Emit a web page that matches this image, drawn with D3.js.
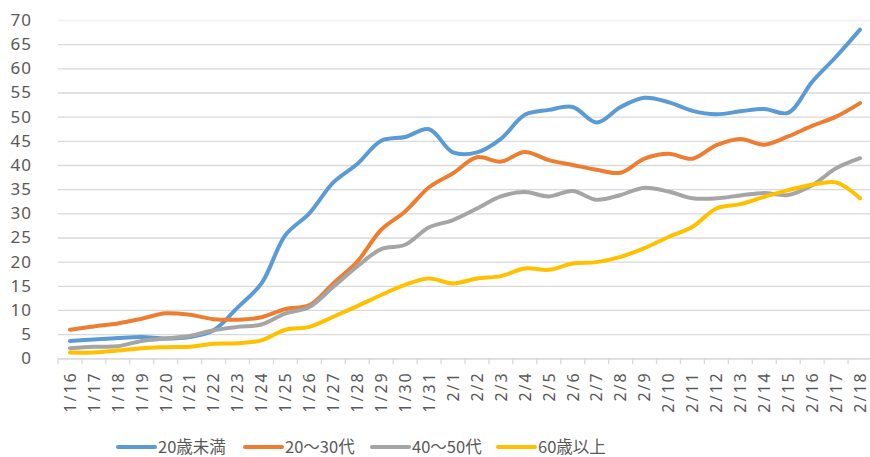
<!DOCTYPE html>
<html>
<head>
<meta charset="utf-8">
<script src="https://cdn.jsdelivr.net/npm/d3@7/dist/d3.min.js"></script>
<style>
  body { margin: 0; background: #fff; }
  svg { display: block; }
  text { font-family: "Noto Sans", "Noto Sans CJK JP", sans-serif; fill: #595959; }
</style>
</head>
<body>
<script>
//Width and height
var width = 870;
var height = 457;

//Data
var dates = ["1/16","1/17","1/18","1/19","1/20","1/21","1/22","1/23","1/24","1/25","1/26","1/27",
             "1/28","1/29","1/30","1/31","2/1","2/2","2/3","2/4","2/5","2/6","2/7","2/8","2/9",
             "2/10","2/11","2/12","2/13","2/14","2/15","2/16","2/17","2/18"];

var under20 = [3.6,3.9,4.2,4.4,4.1,4.4,5.8,10.5,15.5,25.5,30.0,36.4,40.2,45.0,45.8,47.4,42.6,42.6,
               45.4,50.4,51.4,52.0,48.8,52.0,53.9,53.0,51.2,50.5,51.1,51.6,50.8,57.2,62.4,68.0];
var age20to30 = [5.9,6.6,7.2,8.2,9.3,9.0,8.1,8.0,8.5,10.2,11.0,15.5,20.0,26.6,30.4,35.4,38.3,41.6,
                 40.7,42.7,41.0,40.0,39.0,38.4,41.3,42.3,41.3,44.1,45.4,44.2,45.9,48.1,50.0,52.8];
var age40to50 = [2.1,2.4,2.5,3.6,4.1,4.6,5.8,6.5,7.0,9.3,10.6,14.8,19.0,22.6,23.5,27.1,28.6,31.0,
                 33.5,34.4,33.5,34.6,32.8,33.8,35.3,34.5,33.1,33.1,33.7,34.2,33.8,35.8,39.3,41.4];
var over60 = [1.2,1.2,1.6,2.1,2.3,2.4,3.0,3.1,3.7,5.9,6.5,8.6,10.8,13.1,15.2,16.5,15.5,16.5,17.0,
              18.6,18.3,19.6,19.9,21.0,22.8,25.1,27.2,31.0,31.9,33.4,34.8,35.9,36.4,33.1];

var seriesNames = ["20歳未満","20～30代","40～50代","60歳以上"];
var seriesColors = ["#5B9BD5","#ED7D31","#A5A5A5","#FFC000"];
var series = [under20, age20to30, age40to50, over60];

var yTicks = [0,5,10,15,20,25,30,35,40,45,50,55,60,65,70];

//Scales
var x = d3.scaleBand()
    .domain(dates)
    .range([58, 872])
    .padding(0);

var y = d3.scaleLinear()
    .domain([0, 70])
    .range([358.3, 20]);

//Create SVG element
var svg = d3.select("body")
            .append("svg")
            .attr("width", width)
            .attr("height", height);

//Gridlines + y labels
var yAxis = svg.append("g")
    .attr("transform", "translate(58,0)")
    .call(d3.axisLeft(y)
        .tickValues(yTicks)
        .tickSize(-(872 - 58))
        .tickPadding(26)
        .tickFormat(d3.format("d")));

yAxis.select(".domain").remove();
yAxis.selectAll(".tick line")
    .attr("stroke", function(d) { return d === 70 ? "#f0f0f0" : "#d9d9d9"; })
    .attr("stroke-width", 1.3);
yAxis.selectAll(".tick text")
    .style("font-size", "17px")
    .style("letter-spacing", "1px")
    .attr("fill", "#595959");

//X axis
var xAxis = svg.append("g")
    .attr("transform", "translate(0," + y(0) + ")")
    .call(d3.axisBottom(x).tickSize(0).tickPadding(0));

xAxis.select(".domain")
    .attr("stroke", "#d9d9d9")
    .attr("stroke-width", 1.3);

xAxis.selectAll(".tick text")
    .style("font-size", "16px")
    .style("letter-spacing", "2px")
    .attr("fill", "#595959")
    .attr("text-anchor", "end")
    .attr("dy", "0.36em")
    .attr("transform", "translate(0,13) rotate(-90)");

//category tick marks at band boundaries
svg.append("g")
    .selectAll("line")
    .data(dates)
    .enter().append("line")
    .attr("x1", function(d) { return x(d); })
    .attr("x2", function(d) { return x(d); })
    .attr("y1", y(0))
    .attr("y2", y(0) + 6)
    .attr("stroke", "#d9d9d9")
    .attr("stroke-width", 1.3);

//Lines
var line = d3.line()
    .x(function(d, i) { return x(dates[i]) + x.bandwidth() / 2; })
    .y(function(d) { return y(d); })
    .curve(d3.curveCatmullRom.alpha(0.5));

svg.append("g")
    .selectAll("path")
    .data(series)
    .enter().append("path")
    .attr("d", line)
    .attr("fill", "none")
    .attr("stroke", function(d, i) { return seriesColors[i]; })
    .attr("stroke-width", 4)
    .attr("stroke-linecap", "round")
    .attr("stroke-linejoin", "round");

//Legend
var legendX = [118, 245, 372, 498];
var legend = svg.append("g")
    .attr("class", "legend")
    .attr("transform", "translate(0,447)");

var item = legend.selectAll("g")
    .data(seriesNames)
    .enter().append("g")
    .attr("transform", function(d, i) { return "translate(" + legendX[i] + ",0)"; });

item.append("line")
    .attr("x1", 0)
    .attr("x2", 37)
    .attr("stroke", function(d, i) { return seriesColors[i]; })
    .attr("stroke-width", 4)
    .attr("stroke-linecap", "round");

item.append("text")
    .attr("x", 40)
    .attr("dy", "0.35em")
    .style("font-size", "16.5px")
    .style("font-family", "'Noto Sans CJK JP', sans-serif")
    .text(function(d) { return d; });
</script>
</body>
</html>
